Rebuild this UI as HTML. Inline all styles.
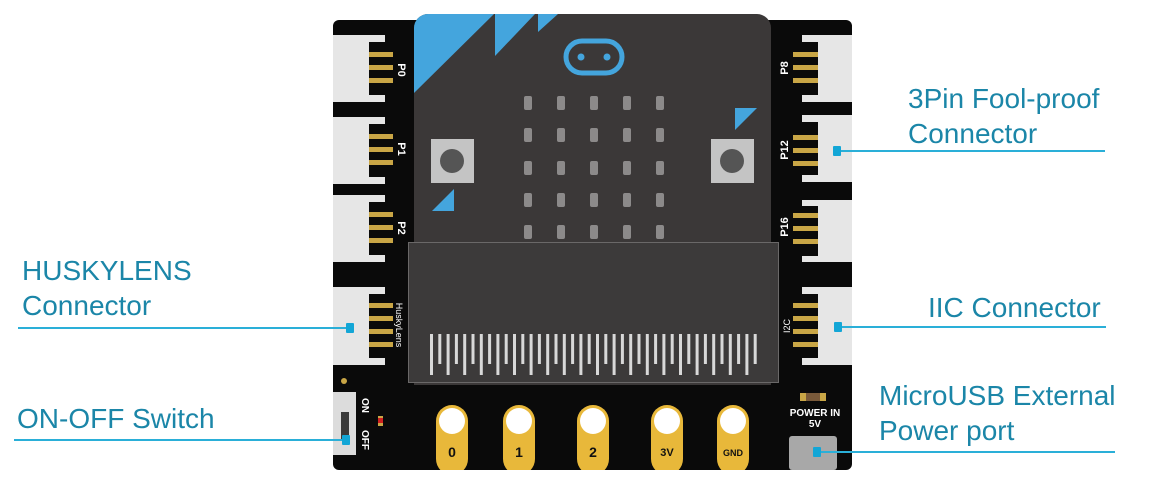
<!DOCTYPE html>
<html><head><meta charset="utf-8"><style>
html,body{margin:0;padding:0;background:#fff;width:1155px;height:488px;overflow:hidden}
svg{display:block}
.lbl{font-family:"Liberation Sans",Arial,sans-serif;font-size:28px;fill:#1b86a8}
.pin{font-family:"Liberation Sans",Arial,sans-serif;font-weight:bold;fill:#fff}
</style></head><body>
<svg width="1155" height="488" viewBox="0 0 1155 488" xmlns="http://www.w3.org/2000/svg">
<rect x="333" y="20" width="519" height="450" rx="6" fill="#0a0a0a"/>
<g fill="#e6e6e6">
<rect x="333" y="35" width="52" height="67"/>
<rect x="333" y="117" width="52" height="67"/>
<rect x="333" y="195" width="52" height="67"/>
<rect x="333" y="287" width="52" height="78"/>
<rect x="802" y="35" width="50" height="67"/>
<rect x="802" y="115" width="50" height="67"/>
<rect x="802" y="200" width="50" height="62"/>
<rect x="802" y="287" width="50" height="78"/>
</g>
<g fill="#0a0a0a">
<rect x="369" y="42" width="16" height="53"/>
<rect x="369" y="124" width="16" height="53"/>
<rect x="369" y="202" width="16" height="53"/>
<rect x="369" y="294" width="16" height="64"/>
<rect x="802" y="42" width="16" height="53"/>
<rect x="802" y="122" width="16" height="53"/>
<rect x="802" y="206" width="16" height="50"/>
<rect x="802" y="294" width="16" height="64"/>
</g>
<g fill="#c9a646">
<rect x="369" y="52" width="24" height="5"/><rect x="369" y="65" width="24" height="5"/><rect x="369" y="78" width="24" height="5"/>
<rect x="369" y="134" width="24" height="5"/><rect x="369" y="147" width="24" height="5"/><rect x="369" y="160" width="24" height="5"/>
<rect x="369" y="212" width="24" height="5"/><rect x="369" y="225" width="24" height="5"/><rect x="369" y="238" width="24" height="5"/>
<rect x="369" y="303" width="24" height="5"/><rect x="369" y="316" width="24" height="5"/><rect x="369" y="329" width="24" height="5"/><rect x="369" y="342" width="24" height="5"/>
<rect x="793" y="52" width="25" height="5"/><rect x="793" y="65" width="25" height="5"/><rect x="793" y="78" width="25" height="5"/>
<rect x="793" y="135" width="25" height="5"/><rect x="793" y="148" width="25" height="5"/><rect x="793" y="161" width="25" height="5"/>
<rect x="793" y="213" width="25" height="5"/><rect x="793" y="226" width="25" height="5"/><rect x="793" y="239" width="25" height="5"/>
<rect x="793" y="303" width="25" height="5"/><rect x="793" y="316" width="25" height="5"/><rect x="793" y="329" width="25" height="5"/><rect x="793" y="342" width="25" height="5"/>
</g>
<g class="pin" font-size="11">
<text transform="translate(398,70) rotate(90)" text-anchor="middle">P0</text>
<text transform="translate(398,149) rotate(90)" text-anchor="middle">P1</text>
<text transform="translate(398,228) rotate(90)" text-anchor="middle">P2</text>
<text transform="translate(396,325) rotate(90)" text-anchor="middle" font-size="9" font-weight="normal">HuskyLens</text>
<text transform="translate(788,68) rotate(-90)" text-anchor="middle">P8</text>
<text transform="translate(788,150) rotate(-90)" text-anchor="middle">P12</text>
<text transform="translate(788,227) rotate(-90)" text-anchor="middle">P16</text>
<text transform="translate(790,326) rotate(-90)" text-anchor="middle" font-size="9" font-weight="normal">I2C</text>
</g>
<path d="M414,28 a14,14 0 0 1 14,-14 h329 a14,14 0 0 1 14,14 V385 H414 Z" fill="#3b3838"/>
<path d="M414,93 V28 a14,14 0 0 1 14,-14 h66 Z" fill="#44a5dd"/>
<path d="M495,56 V14 h40 Z" fill="#44a5dd"/>
<path d="M538,32 V14 h20 Z" fill="#44a5dd"/>
<path d="M432,211 l22,-22 v22 Z" fill="#44a5dd"/>
<path d="M735,130 v-22 h22 Z" fill="#44a5dd"/>
<rect x="566" y="41" width="56" height="32" rx="16" fill="none" stroke="#44a5dd" stroke-width="5"/>
<circle cx="581" cy="57" r="3.5" fill="#44a5dd"/><circle cx="607" cy="57" r="3.5" fill="#44a5dd"/>
<g fill="#8c8a8a">
<rect x="524" y="96" width="8" height="14" rx="2"/><rect x="557" y="96" width="8" height="14" rx="2"/><rect x="590" y="96" width="8" height="14" rx="2"/><rect x="623" y="96" width="8" height="14" rx="2"/><rect x="656" y="96" width="8" height="14" rx="2"/>
<rect x="524" y="128" width="8" height="14" rx="2"/><rect x="557" y="128" width="8" height="14" rx="2"/><rect x="590" y="128" width="8" height="14" rx="2"/><rect x="623" y="128" width="8" height="14" rx="2"/><rect x="656" y="128" width="8" height="14" rx="2"/>
<rect x="524" y="161" width="8" height="14" rx="2"/><rect x="557" y="161" width="8" height="14" rx="2"/><rect x="590" y="161" width="8" height="14" rx="2"/><rect x="623" y="161" width="8" height="14" rx="2"/><rect x="656" y="161" width="8" height="14" rx="2"/>
<rect x="524" y="193" width="8" height="14" rx="2"/><rect x="557" y="193" width="8" height="14" rx="2"/><rect x="590" y="193" width="8" height="14" rx="2"/><rect x="623" y="193" width="8" height="14" rx="2"/><rect x="656" y="193" width="8" height="14" rx="2"/>
<rect x="524" y="225" width="8" height="14" rx="2"/><rect x="557" y="225" width="8" height="14" rx="2"/><rect x="590" y="225" width="8" height="14" rx="2"/><rect x="623" y="225" width="8" height="14" rx="2"/><rect x="656" y="225" width="8" height="14" rx="2"/>
</g>
<rect x="431" y="139" width="43" height="44" fill="#c4c4c4"/><circle cx="452" cy="161" r="12" fill="#555"/>
<rect x="711" y="139" width="43" height="44" fill="#c4c4c4"/><circle cx="732" cy="161" r="12" fill="#555"/>
<rect x="408.5" y="242.5" width="370" height="140" fill="#3c3a3a" stroke="#6a6868" stroke-width="1"/>
<g id="fingers" fill="#d8d8d8"></g>
<rect x="333" y="392" width="23" height="63" fill="#dcdcdc"/>
<rect x="341" y="412" width="8" height="28" fill="#3a3a3a"/>
<circle cx="344" cy="381" r="3" fill="#c9a646"/>
<rect x="378" y="416" width="5" height="10" fill="#c9a646"/><rect x="378" y="418" width="5" height="5" fill="#d02020"/>
<g class="pin" font-size="10" font-weight="normal">
<text transform="translate(362,398) rotate(90)">ON</text>
<text transform="translate(362,430) rotate(90)">OFF</text>
</g>
<g fill="#e8b83a">
<rect x="436" y="405" width="32" height="70" rx="16"/>
<rect x="503" y="405" width="32" height="70" rx="16"/>
<rect x="577" y="405" width="32" height="70" rx="16"/>
<rect x="651" y="405" width="32" height="70" rx="16"/>
<rect x="717" y="405" width="32" height="70" rx="16"/>
</g>
<rect x="333" y="470" width="519" height="18" fill="#fff"/>
<g fill="#fff">
<circle cx="452" cy="421" r="13"/><circle cx="519" cy="421" r="13"/><circle cx="593" cy="421" r="13"/><circle cx="667" cy="421" r="13"/><circle cx="733" cy="421" r="13"/>
</g>
<g font-family="Liberation Sans,Arial,sans-serif" font-weight="bold" fill="#111" text-anchor="middle">
<text x="452" y="457" font-size="14">0</text><text x="519" y="457" font-size="14">1</text><text x="593" y="457" font-size="14">2</text><text x="667" y="456" font-size="11">3V</text><text x="733" y="456" font-size="9">GND</text>
</g>
<rect x="800" y="393" width="26" height="8" fill="#c9a646"/><rect x="806" y="393" width="14" height="8" fill="#7a5a3a"/>
<text x="815" y="416" text-anchor="middle" class="pin" font-size="10" font-weight="normal">POWER IN</text>
<text x="815" y="427" text-anchor="middle" class="pin" font-size="10" font-weight="normal">5V</text>
<rect x="789" y="436" width="48" height="34" rx="3" fill="#a8a8a8"/>
<g stroke="#2aafd8" stroke-width="2">
<line x1="838" y1="151" x2="1105" y2="151"/>
<line x1="838" y1="327" x2="1106" y2="327"/>
<line x1="817" y1="452" x2="1115" y2="452"/>
<line x1="18" y1="328" x2="350" y2="328"/>
<line x1="14" y1="440" x2="345" y2="440"/>
</g>
<g fill="#13a6d6">
<rect x="833" y="146" width="8" height="10" rx="1"/>
<rect x="834" y="322" width="8" height="10" rx="1"/>
<rect x="813" y="447" width="8" height="10" rx="1"/>
<rect x="346" y="323" width="8" height="10" rx="1"/>
<rect x="342" y="435" width="8" height="10" rx="1"/>
</g>
<text class="lbl" x="908" y="108">3Pin Fool-proof</text>
<text class="lbl" x="908" y="143">Connector</text>
<text class="lbl" x="928" y="317">IIC Connector</text>
<text class="lbl" x="879" y="405">MicroUSB External</text>
<text class="lbl" x="879" y="440">Power port</text>
<text class="lbl" x="22" y="280">HUSKYLENS</text>
<text class="lbl" x="22" y="315">Connector</text>
<text class="lbl" x="17" y="428">ON-OFF Switch</text>
</svg>
<script>
var g=document.getElementById('fingers'),s='';
for(var i=0;i<40;i++){var x=430+i*8.3;var long=(i%2==0);s+='<rect x="'+x.toFixed(1)+'" y="334" width="3" height="'+(long?41:30)+'"/>';}
g.innerHTML=s;
</script>
</body></html>
